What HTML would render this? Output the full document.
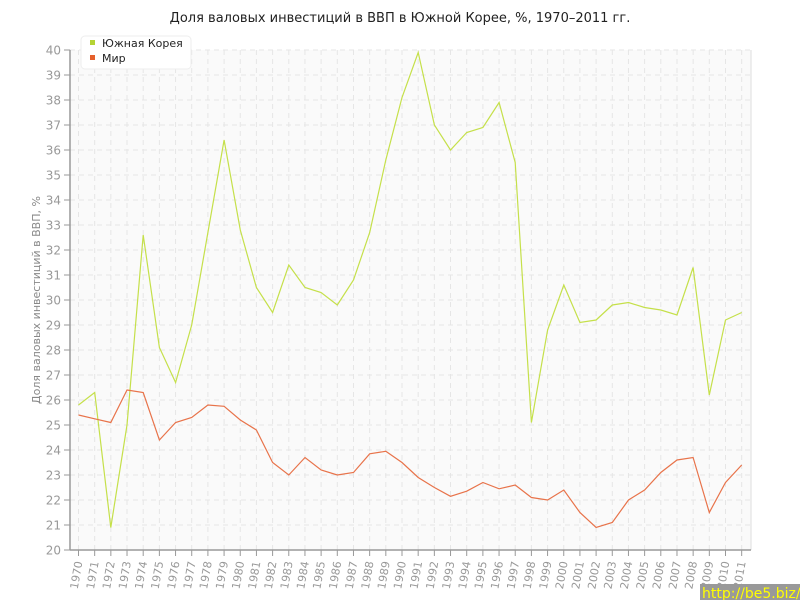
<!DOCTYPE html>
<html><head><meta charset="utf-8"><style>
html,body{margin:0;padding:0;background:#fff;}
svg{display:block;font-family:"DejaVu Sans","Liberation Sans",sans-serif;}
</style></head><body>
<svg id="c" width="800" height="600" xmlns="http://www.w3.org/2000/svg"></svg>
<script>
var kr=[25.8,26.3,20.9,25.0,32.6,28.1,26.7,29.0,32.7,36.4,32.8,30.5,29.5,31.4,30.5,30.3,29.8,30.8,32.7,35.6,38.1,39.9,37.0,36.0,36.7,36.9,37.9,35.5,25.1,28.8,30.6,29.1,29.2,29.8,29.9,29.7,29.6,29.4,31.3,26.2,29.2,29.5];
var w=[25.4,25.25,25.1,26.4,26.3,24.4,25.1,25.3,25.8,25.75,25.2,24.8,23.5,23.0,23.7,23.2,23.0,23.1,23.85,23.95,23.5,22.9,22.5,22.15,22.35,22.7,22.45,22.6,22.1,22.0,22.4,21.5,20.9,21.1,22.0,22.4,23.1,23.6,23.7,21.5,22.7,23.4];
function X(i){return 78.5+i*16.175;}function Y(v){return 550-(v-20)*25;}
var s='<text x="400" y="22" text-anchor="middle" font-size="13" fill="#222">Доля валовых инвестиций в ВВП в Южной Корее, %, 1970–2011 гг.</text>';
s+='<rect x="70" y="50" width="681" height="500" fill="#fafafa"/>';
s+='<line x1="751" y1="50" x2="751" y2="550" stroke="#ddd"/>';
for(var v=20;v<=40;v++){var y=Y(v);if(v>20)s+='<line x1="70" y1="'+y+'" x2="751" y2="'+y+'" stroke="#e6e6e6" stroke-dasharray="5,4"/>';
s+='<line x1="64" y1="'+y+'" x2="70" y2="'+y+'" stroke="#999"/><text x="61" y="'+(y+4.5)+'" text-anchor="end" font-size="12" fill="#999">'+v+'</text>';}
for(var i=0;i<42;i++){var x=X(i);s+='<line x1="'+x+'" y1="50" x2="'+x+'" y2="550" stroke="#e6e6e6" stroke-dasharray="5,4"/><line x1="'+x+'" y1="550" x2="'+x+'" y2="556" stroke="#999"/>';
s+='<text transform="translate('+(x+4)+',562) rotate(-80)" text-anchor="end" font-size="11" fill="#999">'+(1970+i)+'</text>';}
s+='<line x1="70" y1="50" x2="70" y2="550" stroke="#999" stroke-width="1.5"/><line x1="70" y1="550" x2="751" y2="550" stroke="#999" stroke-width="1.5"/>';
function pl(d,c){return '<polyline fill="none" stroke="'+c+'" stroke-width="1.2" points="'+d.map(function(v,i){return X(i).toFixed(1)+','+Y(v).toFixed(1)}).join(' ')+'"/>';}
s+=pl(kr,'#c5e04a')+pl(w,'#e8734a');
s+='<text transform="translate(40,300) rotate(-90)" text-anchor="middle" font-size="11" fill="#888">Доля валовых инвестиций в ВВП, %</text>';
s+='<rect x="81" y="36" width="110" height="33" rx="4" fill="#fff" stroke="#eee"/>';
s+='<rect x="90" y="40" width="5" height="5" fill="#b5d334"/><text x="102" y="47" font-size="11" fill="#222">Южная Корея</text>';
s+='<rect x="90" y="55" width="5" height="5" fill="#e5602c"/><text x="102" y="62" font-size="11" fill="#222">Мир</text>';
s+='<rect x="700" y="584" width="100" height="16" fill="#999"/><text x="702" y="598" font-size="14" fill="#ff0">http://be5.biz/</text>';
document.getElementById('c').innerHTML=s;
</script>
</body></html>
